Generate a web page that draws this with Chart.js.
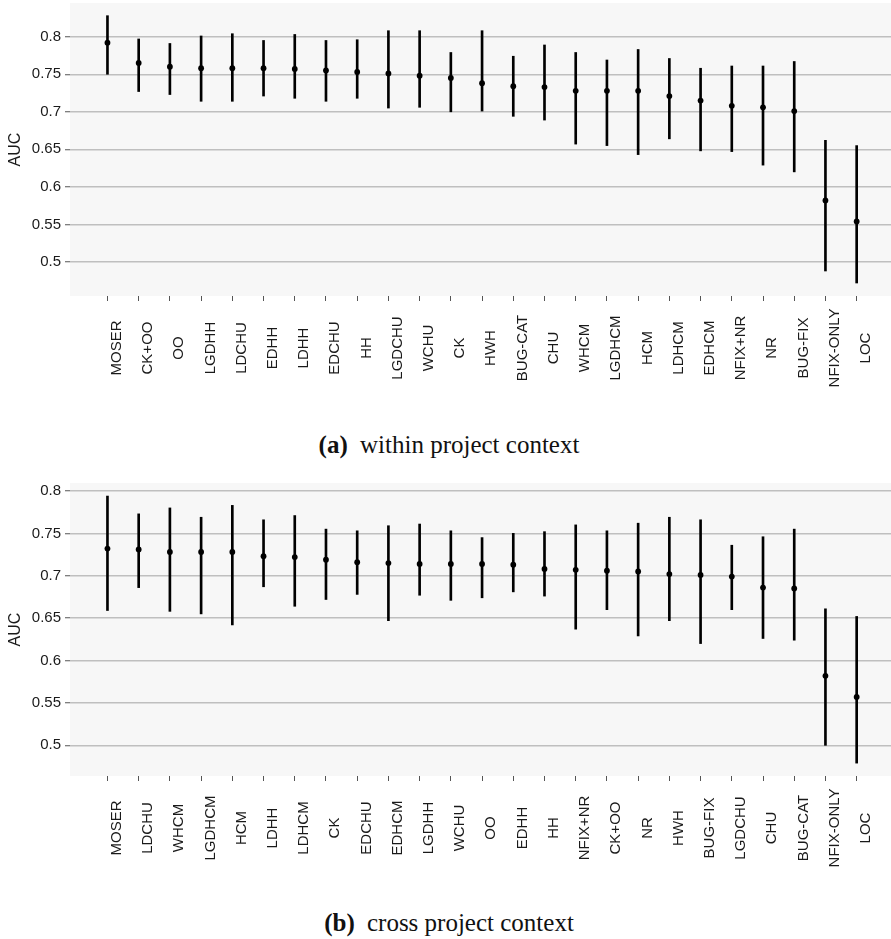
<!DOCTYPE html>
<html>
<head>
<meta charset="utf-8">
<script src="https://cdn.jsdelivr.net/npm/chart.js@4.4.1/dist/chart.umd.min.js"></script>
<style>
  body { margin: 0; background: #ffffff; width: 891px; height: 939px; position: relative; overflow: hidden; }
  canvas { position: absolute; left: 0; }
  .caption { position: absolute; left: 0; width: 898px; text-align: center; font-family: "Liberation Serif", serif; font-size: 25px; line-height: 30px; color: #111; }
  .caption b { margin-right: 6px; }
</style>
</head>
<body>
<canvas id="withinChart" width="891" height="400" style="top:0px"></canvas>
<div class="caption" style="top:430px"><b>(a)</b> within project context</div>
<canvas id="crossChart" width="891" height="420" style="top:470px"></canvas>
<div class="caption" style="top:908px"><b>(b)</b> cross project context</div>

<script>
// (a) within project context
const withinLabels = ["MOSER", "CK+OO", "OO", "LGDHH", "LDCHU", "EDHH", "LDHH", "EDCHU", "HH", "LGDCHU", "WCHU", "CK", "HWH", "BUG-CAT", "CHU", "WHCM", "LGDHCM", "HCM", "LDHCM", "EDHCM", "NFIX+NR", "NR", "BUG-FIX", "NFIX-ONLY", "LOC"];
const withinAuc  = [0.792, 0.765, 0.760, 0.758, 0.758, 0.758, 0.757, 0.755, 0.753, 0.751, 0.748, 0.745, 0.738, 0.734, 0.733, 0.728, 0.728, 0.728, 0.721, 0.715, 0.708, 0.706, 0.701, 0.582, 0.554];
const withinLow  = [0.750, 0.727, 0.723, 0.714, 0.714, 0.721, 0.718, 0.714, 0.718, 0.705, 0.706, 0.700, 0.701, 0.694, 0.689, 0.657, 0.655, 0.643, 0.664, 0.648, 0.647, 0.629, 0.620, 0.488, 0.472];
const withinHigh = [0.828, 0.797, 0.791, 0.801, 0.804, 0.795, 0.803, 0.795, 0.796, 0.808, 0.808, 0.779, 0.808, 0.774, 0.789, 0.779, 0.769, 0.783, 0.771, 0.758, 0.761, 0.761, 0.767, 0.662, 0.655];

// (b) cross project context
const crossLabels = ["MOSER", "LDCHU", "WHCM", "LGDHCM", "HCM", "LDHH", "LDHCM", "CK", "EDCHU", "EDHCM", "LGDHH", "WCHU", "OO", "EDHH", "HH", "NFIX+NR", "CK+OO", "NR", "HWH", "BUG-FIX", "LGDCHU", "CHU", "BUG-CAT", "NFIX-ONLY", "LOC"];
const crossAuc  = [0.732, 0.731, 0.728, 0.728, 0.728, 0.723, 0.722, 0.719, 0.716, 0.715, 0.714, 0.714, 0.714, 0.713, 0.708, 0.707, 0.706, 0.705, 0.702, 0.701, 0.699, 0.686, 0.685, 0.582, 0.557];
const crossLow  = [0.659, 0.686, 0.658, 0.655, 0.642, 0.687, 0.664, 0.672, 0.678, 0.647, 0.677, 0.671, 0.674, 0.681, 0.676, 0.637, 0.660, 0.629, 0.647, 0.620, 0.660, 0.626, 0.624, 0.500, 0.479];
const crossHigh = [0.794, 0.773, 0.780, 0.769, 0.783, 0.766, 0.771, 0.755, 0.753, 0.759, 0.761, 0.753, 0.745, 0.750, 0.752, 0.760, 0.753, 0.762, 0.769, 0.766, 0.736, 0.746, 0.755, 0.661, 0.652];

const yTicks = [0.5, 0.55, 0.6, 0.65, 0.7, 0.75, 0.8];

function noPadding(s) {
    s.paddingTop = 0;
    s.paddingBottom = 0;
    s.paddingLeft = 0;
    s.paddingRight = 0;
}

function createChart(name, labels, auc, low, high, yMin, yMax, padTop, axisHeight, labelY) {
    const bars = labels.map((l, i) => ({x: i + 1, y: [low[i], high[i]]}));
    const points = labels.map((l, i) => ({x: i + 1, y: auc[i]}));

    const panelBackground = {
        id: "panelBackground",
        beforeDraw(chart) {
            const a = chart.chartArea;
            chart.ctx.save();
            chart.ctx.fillStyle = "#f7f7f7";
            chart.ctx.fillRect(a.left, a.top, a.right - a.left, a.bottom - a.top);
            chart.ctx.restore();
        }
    };

    // rotated category names, centred below the axis like ggplot does
    const xLabels = {
        id: "xLabels",
        afterDraw(chart) {
            const ctx = chart.ctx;
            const xs = chart.scales.x;
            ctx.save();
            ctx.font = '15px "Liberation Sans", Arial, sans-serif';
            ctx.fillStyle = "#1a1a1a";
            ctx.textAlign = "center";
            ctx.textBaseline = "alphabetic";
            labels.forEach((l, i) => {
                const px = xs.getPixelForValue(i + 1);
                ctx.save();
                ctx.translate(px + 13.4, labelY);
                ctx.rotate(-Math.PI / 2);
                ctx.fillText(l, 0, 0);
                ctx.restore();
            });
            ctx.restore();
        }
    };

    var chartElement = document.getElementById(name + "Chart").getContext("2d");
    return new Chart(chartElement, {
        type: "bar",
        data: {
            datasets: [{
                type: "line",
                data: points,
                showLine: false,
                pointRadius: 2.9,
                pointBackgroundColor: "#000000",
                pointBorderWidth: 0,
                order: 0
            }, {
                type: "bar",
                data: bars,
                backgroundColor: "#000000",
                borderWidth: 0,
                barThickness: 2,
                order: 1
            }]
        },
        options: {
            responsive: false,
            animation: false,
            devicePixelRatio: 1,
            layout: {autoPadding: false, padding: {top: padTop, right: 0, left: 0, bottom: 0}},
            plugins: {legend: {display: false}, tooltip: {enabled: false}},
            scales: {
                x: {
                    type: "linear",
                    min: -0.2,
                    max: 26.1,
                    offset: false,
                    afterBuildTicks: s => { s.ticks = labels.map((l, i) => ({value: i + 1})); },
                    afterFit: s => { s.height = axisHeight; noPadding(s); },
                    ticks: {display: false},
                    grid: {drawOnChartArea: false, drawTicks: true, tickLength: 5, tickColor: "#555555", tickWidth: 1, offset: false},
                    border: {display: false}
                },
                y: {
                    min: yMin,
                    max: yMax,
                    afterBuildTicks: s => { s.ticks = yTicks.map(v => ({value: v})); },
                    afterFit: s => { s.width = 70; noPadding(s); },
                    ticks: {
                        padding: 4,
                        color: "#1a1a1a",
                        font: {family: '"Liberation Sans", Arial, sans-serif', size: 15},
                        callback: v => String(v)
                    },
                    grid: {color: "#bfbfbf", lineWidth: 1.5, drawTicks: true, tickLength: 5, tickColor: "#555555", tickWidth: 1},
                    border: {display: false},
                    title: {
                        display: true,
                        text: "AUC",
                        color: "#1a1a1a",
                        font: {family: '"Liberation Sans", Arial, sans-serif', size: 16},
                        padding: {top: 6, bottom: 0}
                    }
                }
            }
        },
        plugins: [panelBackground, xLabels]
    });
}

createChart("within", withinLabels, withinAuc, withinLow, withinHigh, 0.4547, 0.8449, 3, 104, 348);
createChart("cross", crossLabels, crossAuc, crossLow, crossHigh, 0.4638, 0.8094, 13, 114, 358);
</script>
</body>
</html>
